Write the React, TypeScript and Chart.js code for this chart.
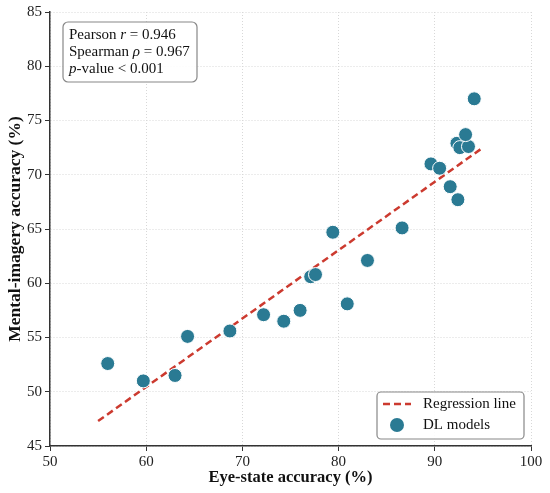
import { useEffect, useRef } from "react"
import { Chart, registerables } from "chart.js"
Chart.register(...registerables)

// DL models: eye-state accuracy vs mental-imagery accuracy (%)
const eyeState = [
  56.0, 59.7, 63.0, 64.3, 68.7, 72.2, 74.3, 76.0, 77.1, 77.6, 79.4, 80.9,
  83.0, 86.6, 89.6, 90.5, 91.6, 92.4, 92.3, 92.6, 93.5, 93.2, 94.1,
]
const mentalImagery = [
  52.6, 51.0, 51.5, 55.1, 55.6, 57.1, 56.5, 57.5, 60.6, 60.8, 64.7, 58.1,
  62.1, 65.1, 71.0, 70.6, 68.9, 67.7, 72.9, 72.5, 72.6, 73.7, 77.0,
]

// regression line end points
const regX = [55, 95]
const regY = [47.3, 72.5]

const xTicks = [50, 60, 70, 80, 90, 100]
const yTicks = [45, 50, 55, 60, 65, 70, 75, 80, 85]

const pearsonR = "0.946"
const spearmanRho = "0.967"
const pValue = "0.001"

const FONT = "'Liberation Serif', 'DejaVu Serif', serif"
const POINT_COLOR = "#2a7a93"
const LINE_COLOR = "#cc3a2f"

// draws runs of [text, italic] left to right
function drawRuns(ctx: CanvasRenderingContext2D, runs: [string, boolean][], x: number, y: number, size: number) {
  let cx = x
  for (const [txt, italic] of runs) {
    ctx.font = `${italic ? "italic " : ""}${size}px ${FONT}`
    ctx.fillText(txt, cx, y)
    cx += ctx.measureText(txt).width
  }
}

function roundBox(ctx: CanvasRenderingContext2D, x: number, y: number, w: number, h: number, r: number) {
  ctx.beginPath()
  ctx.roundRect(x, y, w, h, r)
  ctx.fillStyle = "rgba(255,255,255,0.9)"
  ctx.fill()
  ctx.strokeStyle = "#888"
  ctx.lineWidth = 1.2
  ctx.stroke()
}

const overlayPlugin = {
  id: "overlay",
  afterDraw(chart: Chart) {
    const ctx = chart.ctx
    const area = chart.chartArea
    ctx.save()

    // stats box, top left
    const bx = area.left + 13
    const by = area.top + 10
    roundBox(ctx, bx, by, 134, 60, 5)
    ctx.fillStyle = "#111"
    ctx.textBaseline = "alphabetic"
    ctx.textAlign = "left"
    drawRuns(ctx, [["Pearson ", false], ["r", true], [" = " + pearsonR, false]], bx + 6, by + 17, 15)
    drawRuns(ctx, [["Spearman ", false], ["\u03c1", true], [" = " + spearmanRho, false]], bx + 6, by + 34, 15)
    drawRuns(ctx, [["p", true], ["-value < " + pValue, false]], bx + 6, by + 51, 15)

    // legend, bottom right
    const lw = 147
    const lh = 47
    const lx = area.right - 7 - lw
    const ly = area.bottom - 7 - lh
    roundBox(ctx, lx, ly, lw, lh, 4)
    ctx.textBaseline = "middle"
    ctx.font = `15px ${FONT}`
    ctx.fillStyle = "#111"

    ctx.beginPath()
    ctx.setLineDash([7, 4])
    ctx.strokeStyle = LINE_COLOR
    ctx.lineWidth = 2.5
    ctx.moveTo(lx + 6, ly + 12)
    ctx.lineTo(lx + 34, ly + 12)
    ctx.stroke()
    ctx.setLineDash([])
    ctx.fillText("Regression line", lx + 46, ly + 12)

    ctx.beginPath()
    ctx.arc(lx + 20, ly + 33, 7, 0, Math.PI * 2)
    ctx.fillStyle = POINT_COLOR
    ctx.fill()
    ctx.fillStyle = "#111"
    ctx.fillText("DL models", lx + 46, ly + 33)

    ctx.restore()
  },
}

export default function App() {
  const chartRef = useRef<HTMLCanvasElement>(null)
  const chartInstance = useRef<Chart | null>(null)

  useEffect(() => {
    document.body.style.margin = "0"
    if (!chartRef.current) return
    if (chartInstance.current) chartInstance.current.destroy()
    const ctx = chartRef.current.getContext("2d")
    if (!ctx) return

    const tickFont = { family: FONT, size: 15 }

    chartInstance.current = new Chart(ctx, {
      type: "scatter",
      data: {
        datasets: [
          {
            label: "DL models",
            data: eyeState.map((x, i) => ({ x, y: mentalImagery[i] })),
            backgroundColor: POINT_COLOR,
            borderColor: "#ffffff",
            borderWidth: 1,
            pointRadius: 7,
            order: 1,
          },
          {
            type: "line",
            label: "Regression line",
            data: regX.map((x, i) => ({ x, y: regY[i] })),
            borderColor: LINE_COLOR,
            borderWidth: 2.5,
            borderDash: [7, 4],
            pointRadius: 0,
            fill: false,
            order: 2,
          },
        ],
      },
      options: {
        responsive: false,
        animation: false,
        layout: { padding: { top: 12, right: 19, left: 0, bottom: 0 } },
        scales: {
          x: {
            type: "linear",
            min: 50,
            max: 100,
            afterBuildTicks: (scale: any) => {
              scale.ticks = xTicks.map((v) => ({ value: v }))
            },
            afterFit: (scale: any) => {
              scale.height = 47
            },
            ticks: { font: tickFont, color: "#222", padding: 2 },
            grid: {
              color: "#d8d8d8",
              tickColor: "#333",
              tickLength: 5,
              lineWidth: 1,
            },
            border: { color: "#333", width: 1.5, dash: [1, 2] },
            title: {
              display: true,
              text: "Eye-state accuracy (%)",
              font: { family: FONT, size: 16.5, weight: "bold" },
              color: "#111",
              padding: { top: 0, bottom: 5 },
            },
          },
          y: {
            type: "linear",
            min: 45,
            max: 85,
            afterBuildTicks: (scale: any) => {
              scale.ticks = yTicks.map((v) => ({ value: v }))
            },
            afterFit: (scale: any) => {
              scale.width = 50
            },
            ticks: { font: tickFont, color: "#222", padding: 3 },
            grid: {
              color: "#d8d8d8",
              tickColor: "#333",
              tickLength: 5,
              lineWidth: 1,
            },
            border: { color: "#333", width: 1.5, dash: [1, 2] },
            title: {
              display: true,
              text: "Mental-imagery accuracy (%)",
              font: { family: FONT, size: 17.5, weight: "bold" },
              color: "#111",
              padding: { top: 5, bottom: 0 },
            },
          },
        },
        plugins: {
          legend: { display: false },
          tooltip: { enabled: false },
        },
      },
      plugins: [overlayPlugin],
    })

    return () => {
      if (chartInstance.current) {
        chartInstance.current.destroy()
        chartInstance.current = null
      }
    }
  }, [])

  return (
    <div style={{ width: 550, height: 493 }}>
      <canvas ref={chartRef} width={550} height={493}></canvas>
    </div>
  )
}
